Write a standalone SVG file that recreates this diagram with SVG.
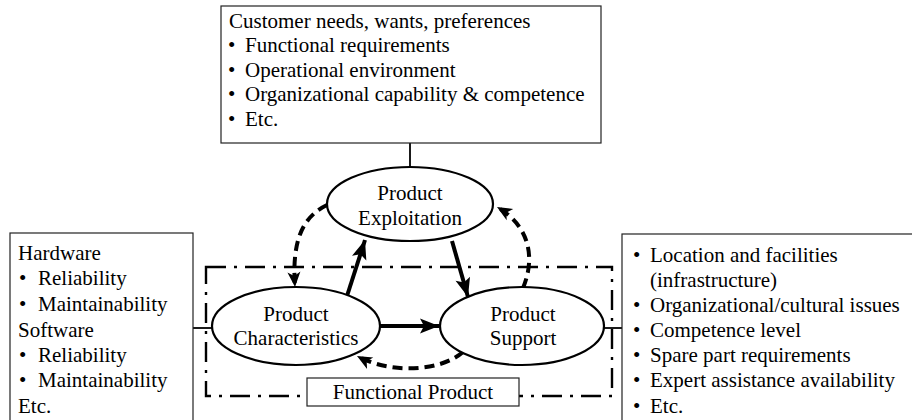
<svg xmlns="http://www.w3.org/2000/svg" width="912" height="420" viewBox="0 0 912 420">
<style>
text{font-family:'Liberation Serif','DejaVu Serif',serif;font-size:21px;fill:#000}
.box{fill:#fff;stroke:#222;stroke-width:1.2}
.ell{fill:#fff;stroke:#000;stroke-width:2.2}
.mid{text-anchor:middle}
.link{stroke:#000;stroke-width:1.8;fill:none}
.solid{stroke:#000;stroke-width:4;fill:none}
.dash{stroke:#000;stroke-width:4;fill:none;stroke-dasharray:10 6}
.frame{fill:none;stroke:#000;stroke-width:2.4;stroke-dasharray:20 8 3 8}
</style>
<defs>
<marker id="ah" markerUnits="userSpaceOnUse" markerWidth="24" markerHeight="20" viewBox="-20 -10 22 20" refX="0" refY="0" orient="auto">
<path d="M0,0 L-19,-7.5 L-15,0 L-19,7.5 Z" fill="#000"/>
</marker>
<marker id="ahd" markerUnits="userSpaceOnUse" markerWidth="20" markerHeight="18" viewBox="-17 -9 19 18" refX="0" refY="0" orient="auto">
<path d="M0,0 L-15,-6.5 L-11,0 L-15,6.5 Z" fill="#000"/>
</marker>
</defs>

<g id="frame-functional-product">
<rect class="frame" x="206" y="267" width="406" height="129"/>
</g>

<g id="connectors">
<line class="link" x1="410" y1="143" x2="410" y2="167"/>
<line class="link" x1="193" y1="328" x2="212" y2="328"/>
<line class="link" x1="604" y1="328" x2="622" y2="328"/>
<line class="solid" x1="347" y1="296" x2="365" y2="240" marker-end="url(#ah)"/>
<line class="solid" x1="452" y1="241" x2="468" y2="297" marker-end="url(#ah)"/>
<line class="solid" x1="380" y1="326" x2="439" y2="326" marker-end="url(#ah)"/>
<path class="dash" d="M327,205 C300,218 292,245 295,287" marker-end="url(#ahd)"/>
<path class="dash" d="M523,288 C534,262 533,228 497,207" marker-end="url(#ahd)"/>
<path class="dash" d="M463,352 C440,372 390,374 357,356" marker-end="url(#ahd)"/>
</g>

<g id="customer-needs" font-family="Liberation Serif, serif">
<rect class="box" x="221" y="6" width="380" height="137"/>
<text x="229" y="28">Customer needs, wants, preferences</text>
<text x="228" y="52">•</text><text x="245" y="52">Functional requirements</text>
<text x="228" y="77">•</text><text x="245" y="77">Operational environment</text>
<text x="228" y="101">•</text><text x="245" y="101">Organizational capability &amp; competence</text>
<text x="228" y="126">•</text><text x="245" y="126">Etc.</text>
</g>

<g id="hardware-software">
<rect class="box" x="10" y="233" width="183" height="200"/>
<text x="18" y="260">Hardware</text>
<text x="19" y="285">•</text><text x="38" y="285">Reliability</text>
<text x="19" y="311">•</text><text x="38" y="311">Maintainability</text>
<text x="18" y="337">Software</text>
<text x="19" y="362">•</text><text x="38" y="362">Reliability</text>
<text x="19" y="387">•</text><text x="38" y="387">Maintainability</text>
<text x="18" y="413">Etc.</text>
</g>

<g id="support-factors">
<rect class="box" x="622" y="234" width="300" height="200"/>
<text x="633" y="262">•</text><text x="650" y="262">Location and facilities</text>
<text x="650" y="287">(infrastructure)</text>
<text x="633" y="312">•</text><text x="650" y="312">Organizational/cultural issues</text>
<text x="633" y="337">•</text><text x="650" y="337">Competence level</text>
<text x="633" y="362">•</text><text x="650" y="362">Spare part requirements</text>
<text x="633" y="387">•</text><text x="650" y="387">Expert assistance availability</text>
<text x="633" y="413">•</text><text x="650" y="413">Etc.</text>
</g>

<g id="product-exploitation">
<ellipse class="ell" cx="410" cy="204" rx="83" ry="37"/>
<text class="mid" x="410" y="200">Product</text>
<text class="mid" x="410" y="225">Exploitation</text>
</g>

<g id="product-characteristics">
<ellipse class="ell" cx="296" cy="326" rx="84" ry="39"/>
<text class="mid" x="296" y="321">Product</text>
<text class="mid" x="296" y="345">Characteristics</text>
</g>

<g id="product-support">
<ellipse class="ell" cx="522" cy="326" rx="82" ry="39"/>
<text class="mid" x="523" y="321">Product</text>
<text class="mid" x="523" y="345">Support</text>
</g>

<g id="functional-product-label">
<rect class="box" x="307" y="378" width="212" height="28"/>
<text class="mid" x="413" y="399">Functional Product</text>
</g>
</svg>
